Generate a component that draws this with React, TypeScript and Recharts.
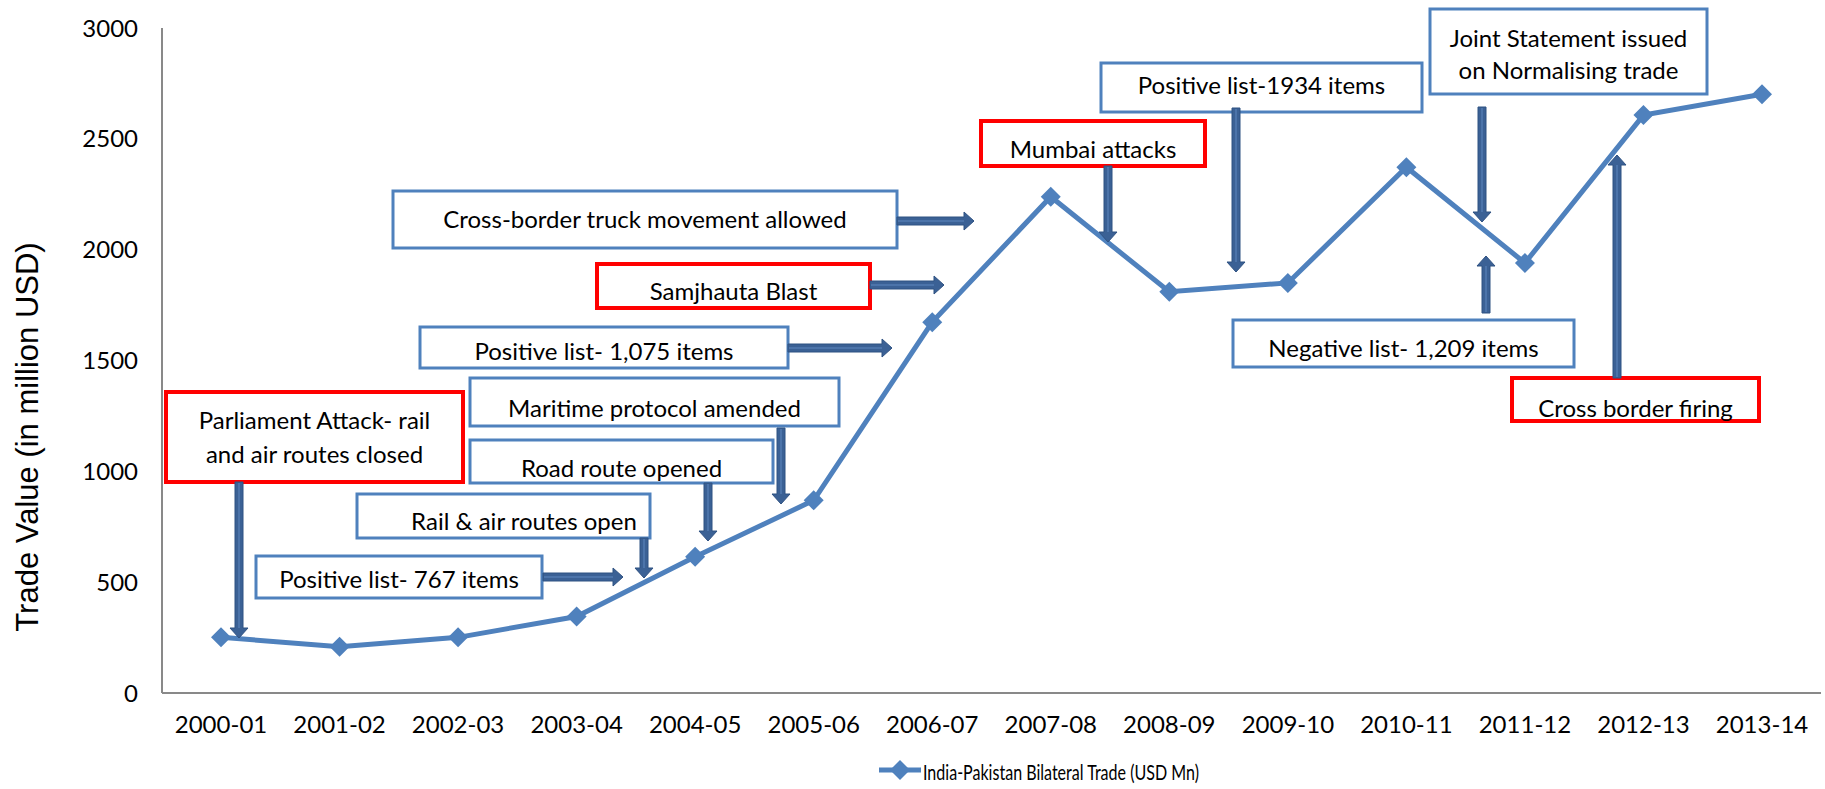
import React from 'react';
import { LineChart, Line, XAxis, YAxis, Legend } from 'recharts';

const years = [
  '2000-01', '2001-02', '2002-03', '2003-04', '2004-05', '2005-06', '2006-07',
  '2007-08', '2008-09', '2009-10', '2010-11', '2011-12', '2012-13', '2013-14',
];
const tradeUsdMn = [251, 209, 251, 345, 615, 869, 1673, 2239, 1810, 1850, 2372, 1940, 2607, 2701];
const yTicks = [0, 500, 1000, 1500, 2000, 2500, 3000];
const seriesName = 'India-Pakistan Bilateral Trade (USD Mn)';
const yTitle = 'Trade Value (in million USD)';

const data = years.map((year, i) => ({ year, trade: tradeUsdMn[i] }));

const BLUE = '#4F81BD';
const ARROW = '#3B6195';
const FONT = 'Lato, "Open Sans", sans-serif';

// callout boxes drawn over the chart (layout only)
type Note = { lines: string[]; x: number; y: number; w: number; h: number; red?: boolean; tx?: number; ty: number[] };
const notes: Note[] = [
  { lines: ['Parliament Attack- rail', 'and air routes closed'], x: 166, y: 392, w: 297, h: 90, red: true, ty: [419, 453] },
  { lines: ['Positive list- 767 items'], x: 256, y: 556, w: 286, h: 42, ty: [578] },
  { lines: ['Rail & air routes open'], x: 357, y: 494, w: 293, h: 44, tx: 524, ty: [520] },
  { lines: ['Road route opened'], x: 470, y: 440, w: 303, h: 43, ty: [467] },
  { lines: ['Maritime protocol amended'], x: 470, y: 378, w: 369, h: 48, ty: [407] },
  { lines: ['Positive list- 1,075 items'], x: 420, y: 327, w: 368, h: 41, ty: [350] },
  { lines: ['Samjhauta Blast'], x: 597, y: 264, w: 273, h: 44, red: true, ty: [290] },
  { lines: ['Cross-border truck movement allowed'], x: 393, y: 191, w: 504, h: 57, ty: [218] },
  { lines: ['Mumbai attacks'], x: 981, y: 121, w: 224, h: 45, red: true, ty: [148] },
  { lines: ['Positive list-1934 items'], x: 1101, y: 63, w: 321, h: 49, ty: [84] },
  { lines: ['Joint Statement issued', 'on Normalising trade'], x: 1430, y: 9, w: 277, h: 85, ty: [37, 69] },
  { lines: ['Negative list- 1,209 items'], x: 1233, y: 320, w: 341, h: 47, ty: [347] },
  { lines: ['Cross border firing'], x: 1512, y: 378, w: 247, h: 43, red: true, ty: [407] },
];

const arrows: [number, number, number, number][] = [
  [239, 482, 239, 638],
  [543, 577, 623, 577],
  [644, 538, 644, 578],
  [708, 483, 708, 541],
  [781, 428, 781, 504],
  [788, 348, 892, 348],
  [870, 285, 944, 285],
  [897, 221, 974, 221],
  [1108, 166, 1108, 242],
  [1236, 108, 1236, 272],
  [1482, 107, 1482, 222],
  [1486, 313, 1486, 256],
  [1617, 378, 1617, 155],
];

const BlockArrow = ({ a }: { a: [number, number, number, number] }) => {
  const [x1, y1, x2, y2] = a;
  const len = Math.hypot(x2 - x1, y2 - y1);
  const ang = (Math.atan2(y2 - y1, x2 - x1) * 180) / Math.PI;
  const s = 4, hw = 9, hl = 10;
  const pts = [
    [0, -s], [len - hl, -s], [len - hl, -hw], [len, 0], [len - hl, hw], [len - hl, s], [0, s],
  ].map((p) => p.join(',')).join(' ');
  return (
    <g transform={`translate(${x1},${y1}) rotate(${ang})`}>
      <polygon points={pts} fill={ARROW} stroke="#2F5282" strokeWidth={1} />
      <line x1={1} y1={0} x2={len - hl} y2={0} stroke="#4C74AA" strokeWidth={2} />
    </g>
  );
};

const Diamond = (props: any) => {
  const { cx, cy } = props;
  if (cx == null || cy == null) return <g />;
  const r = 10;
  return <polygon points={`${cx},${cy - r} ${cx + r},${cy} ${cx},${cy + r} ${cx - r},${cy}`} fill={BLUE} />;
};

const LegendContent = () => (
  <div style={{ display: 'flex', alignItems: 'center', paddingLeft: 879, paddingTop: 8, height: 34 }}>
    <svg width={42} height={22}>
      <line x1={0} y1={11} x2={42} y2={11} stroke={BLUE} strokeWidth={5} />
      <polygon points="21,1 31,11 21,21 11,11" fill={BLUE} />
    </svg>
    <svg width={420} height={34} style={{ marginLeft: 2 }}>
      <text x={0} y={18} dominantBaseline="central" fontFamily={FONT} fontSize={22} fill="#000"
        textLength={276} lengthAdjust="spacingAndGlyphs">
        {seriesName}
      </text>
    </svg>
  </div>
);

const YTitle = () => (
  <text x={38} y={437} transform="rotate(-90, 38, 437)" textAnchor="middle"
    fontFamily='"Liberation Sans", Arial, sans-serif' fontSize={31} fill="#000">
    {yTitle}
  </text>
);

export default function App() {
  return (
    <div style={{ position: 'absolute', left: 0, top: 0, width: 1825, height: 789, background: '#fff' }}>
      <LineChart width={1825} height={789} data={data} margin={{ top: 28, right: 4, left: 0, bottom: 0 }}>
        <XAxis
          dataKey="year"
          stroke="#898989"
          strokeWidth={2}
          tickLine={false}
          tickSize={0}
          tickMargin={23}
          height={52}
          padding={{ left: 59, right: 59 }}
          tick={{ fill: '#000', fontSize: 24, fontFamily: FONT }}
          interval={0}
        />
        <YAxis
          domain={[0, 3000]}
          ticks={yTicks}
          stroke="#898989"
          strokeWidth={2}
          tickLine={false}
          tickSize={0}
          tickMargin={24}
          width={162}
          tick={{ fill: '#000', fontSize: 24, fontFamily: FONT }}
          label={<YTitle />}
        />
        <Legend verticalAlign="bottom" height={44} wrapperStyle={{ left: 0, width: 1825 }} content={<LegendContent />} />
        <Line
          type="linear"
          dataKey="trade"
          name={seriesName}
          stroke={BLUE}
          strokeWidth={5}
          dot={<Diamond />}
          activeDot={false}
          isAnimationActive={false}
        />
      </LineChart>
      <svg width={1825} height={789} style={{ position: 'absolute', left: 0, top: 0, pointerEvents: 'none' }}>
        {notes.map((n, i) => (
          <g key={i}>
            <rect x={n.x} y={n.y} width={n.w} height={n.h} fill="#fff"
              stroke={n.red ? '#FF0000' : BLUE} strokeWidth={n.red ? 4 : 3} />
            {n.lines.map((t, j) => (
              <text key={j} x={n.tx ?? n.x + n.w / 2} y={n.ty[j]} textAnchor="middle" dominantBaseline="central"
                fontFamily={FONT} fontSize={24} fill="#000">
                {t}
              </text>
            ))}
          </g>
        ))}
        {arrows.map((a, i) => <BlockArrow key={i} a={a} />)}
      </svg>
    </div>
  );
}
